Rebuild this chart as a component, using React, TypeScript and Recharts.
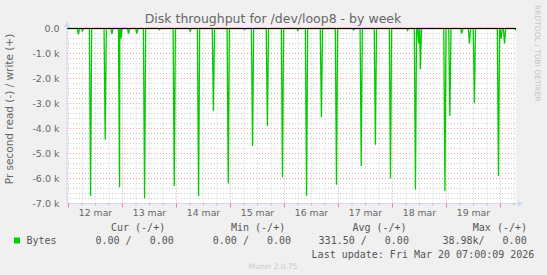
import { LineChart, Line, XAxis, YAxis, CartesianGrid, ReferenceLine } from "recharts";

// hours counted from 12 mar 00:00
const dayLabels = ["12 mar", "13 mar", "14 mar", "15 mar", "16 mar", "17 mar", "18 mar", "19 mar"];
const spikeHours = [
  4.4, 6.2, 9.8, 16.3, 19.3, 22.7, 23.3, 26.7, 30.4, 33.8, 40.4, 47.0, 54.1, 57.8, 64.4, 71.0, 78.2, 81.8, 88.4, 95.1,
  102.0, 105.8, 112.4, 119.1, 126.7, 130.1, 136.4, 143.1, 150.7, 154.2, 155.6, 156.4, 167.3, 169.5, 174.8, 178.2,
  180.4, 191.1, 192.3, 193.8, 198.9,
];
const readBytes = [
  -240, -100, -6700, -4450, -210, -6350, -400, -200, -200, -6800, -50, -6300, -100, -6700, -3300, -6200, -50, -4700,
  -3900, -5950, -80, -6700, -3550, -6250, -60, -5500, -4650, -6000, -80, -6450, -600, -1630, -6500, -3500, -190, -610,
  -2990, -5900, -410, -600, -60,
];
const yTicks = [0, -1000, -2000, -3000, -4000, -5000, -6000, -7000];

const legendHeads = ["Cur (-/+)", "Min (-/+)", "Avg (-/+)", "Max (-/+)"];
const legendVals = ["0.00 /   0.00", "0.00 /   0.00", "331.50 /   0.00", "38.98k/   0.00"];
const lastUpdate = "Last update: Fri Mar 20 07:00:09 2026";

const X_MIN = -0.667;
const X_MAX = 198.9;

// baseline samples next to every spike (samples are 30 min apart)
const rows: { t: number; read: number }[] = [{ t: X_MIN, read: 0 }];
spikeHours.forEach((h, i) => {
  rows.push({ t: h - 0.5, read: 0 });
  rows.push({ t: h, read: readBytes[i] });
  rows.push({ t: h + 0.5, read: 0 });
});
rows.push({ t: X_MAX + 1, read: 0 });
rows.sort((a, b) => a.t - b.t);

const xTicks: number[] = [];
for (let h = 0; h <= X_MAX; h += 6) xTicks.push(h);
const minorX = xTicks.filter((h) => h % 24 !== 0);
const majorX = xTicks.filter((h) => h % 24 === 0);
const minorY: number[] = [];
for (let v = -200; v > -7000; v -= 200) if (v % 1000 !== 0) minorY.push(v);
const majorY = yTicks.filter((v) => v !== 0 && v !== -7000);

const FONT = "DejaVu Sans, sans-serif";
const MONO = "DejaVu Sans Mono, monospace";

const xPos = (vals: number[]) => (p: any) => {
  const s = p?.xAxis?.scale;
  if (typeof s === "function") return vals.map((v) => s(v));
  if (s && typeof s.map === "function") return vals.map((v) => s.map(v));
  const o = p.offset;
  return vals.map((v) => o.left + ((v - X_MIN) / (X_MAX - X_MIN)) * o.width);
};
const yPos = (vals: number[]) => (p: any) => {
  const s = p?.yAxis?.scale;
  if (typeof s === "function") return vals.map((v) => s(v));
  if (s && typeof s.map === "function") return vals.map((v) => s.map(v));
  const o = p.offset;
  return vals.map((v) => o.top + (-v / 7000) * o.height);
};

function XTick(props: any) {
  const { x, y, payload } = props;
  const v = payload.value;
  if (v % 24 === 0) {
    return <line x1={x} x2={x} y1={y} y2={y + 4} stroke="#f08080" />;
  }
  if (v % 24 === 12) {
    return (
      <g>
        <line x1={x} x2={x} y1={y} y2={y + 2} stroke="#bbbbbb" />
        <text x={x} y={y + 12.5} textAnchor="middle" fill="#666" fontSize={9.3} fontFamily={FONT}>
          {dayLabels[(v - 12) / 24]}
        </text>
      </g>
    );
  }
  return <line x1={x} x2={x} y1={y} y2={y + 2} stroke="#bbbbbb" />;
}

const fmtY = (v: number) => (v === 0 ? "0.0" : `${(v / 1000).toFixed(1)} k`);

export default function App() {
  return (
    <div style={{ position: "absolute", left: 0, top: 0, width: 547, height: 275, background: "#F0F0F0" }}>
      <LineChart width={547} height={275} data={rows} margin={{ top: 28.5, right: 31, left: 0, bottom: 0 }}>
        <CartesianGrid
          fill="#ffffff"
          stroke="#cccccc"
          strokeDasharray="1 2"
          horizontalCoordinatesGenerator={yPos(minorY)}
          verticalCoordinatesGenerator={xPos(minorX)}
        />
        <CartesianGrid
          stroke="#f0a0a0"
          strokeDasharray="1 2"
          horizontalCoordinatesGenerator={yPos(majorY)}
          verticalCoordinatesGenerator={xPos(majorX)}
        />
        <XAxis
          dataKey="t"
          type="number"
          domain={[X_MIN, X_MAX]}
          allowDataOverflow
          ticks={xTicks}
          interval={0}
          tick={<XTick />}
          tickLine={false}
          tickSize={0}
          tickMargin={0}
          height={71.5}
          axisLine={{ stroke: "#CFD6F8" }}
        />
        <YAxis
          type="number"
          domain={[-7000, 0]}
          ticks={yTicks}
          interval={0}
          tickFormatter={fmtY}
          tick={{ fill: "#666", fontSize: 9.5, fontFamily: FONT }}
          tickLine={false}
          tickSize={0}
          tickMargin={7.5}
          width={67}
          axisLine={{ stroke: "#CFD6F8" }}
        />
        <Line
          type="linear"
          dataKey="read"
          stroke="#00CC00"
          strokeWidth={1.3}
          dot={false}
          activeDot={false}
          isAnimationActive={false}
        />
        <ReferenceLine y={0} stroke="#000000" />
      </LineChart>
      <svg
        width={547}
        height={275}
        style={{ position: "absolute", left: 0, top: 0, pointerEvents: "none" }}
      >
        <text x={273} y={22.5} textAnchor="middle" fill="#666" fontSize={12.5} fontFamily={FONT}>
          Disk throughput for /dev/loop8 - by week
        </text>
        <text
          transform="translate(13,109) rotate(-90)"
          textAnchor="middle"
          fill="#666"
          fontSize={10.5}
          fontFamily={FONT}
        >
          Pr second read (-) / write (+)
        </text>
        <text
          transform="translate(535,5) rotate(90)"
          textAnchor="start"
          fill="#c4c4c4"
          fontSize={7.5}
          fontFamily={FONT}
        >
          RRDTOOL / TOBI OETIKER
        </text>
        {/* axis arrows */}
        <line x1={516} x2={519} y1={203.5} y2={203.5} stroke="#CFD6F8" />
        <polygon points="518,200.5 523,203.5 518,206.5" fill="#CFD6F8" />
        <polygon points="64,27 67,21.5 70,27" fill="#CFD6F8" />
        {/* legend */}
        {[111, 231, 352.4, 472.8].map((x, i) => (
          <text key={"h" + i} x={x} y={231} fill="#555" fontSize={10} fontFamily={MONO} style={{ whiteSpace: "pre" }}>
            {legendHeads[i]}
          </text>
        ))}
        <rect x={14} y={237.5} width={6} height={6} fill="#00CC00" />
        <text x={26.5} y={244} fill="#555" fontSize={10} fontFamily={MONO}>
          Bytes
        </text>
        {[95.5, 212.8, 318.6, 442.4].map((x, i) => (
          <text key={"v" + i} x={x} y={244} fill="#555" fontSize={10} fontFamily={MONO} style={{ whiteSpace: "pre" }}>
            {legendVals[i]}
          </text>
        ))}
        <text x={311.6} y={257.5} fill="#555" fontSize={10} fontFamily={MONO} style={{ whiteSpace: "pre" }}>
          {lastUpdate}
        </text>
        <text x={273} y={269} textAnchor="middle" fill="#c8c8c8" fontSize={7.5} fontFamily={FONT}>
          Munin 2.0.75
        </text>
      </svg>
    </div>
  );
}
